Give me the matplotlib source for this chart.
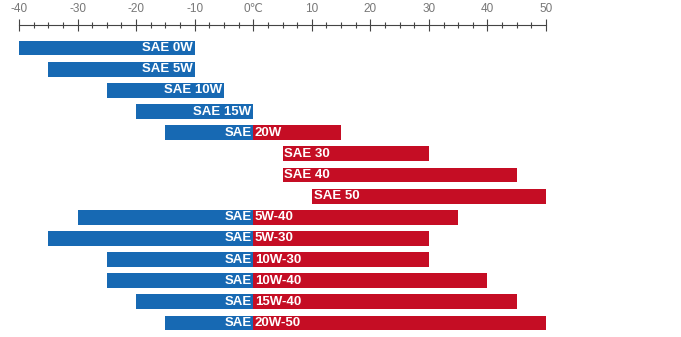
import matplotlib.pyplot as plt
from matplotlib.ticker import MultipleLocator

# temperature ranges per oil grade (deg C)
names = ['0W', '5W', '10W', '15W', '20W', '30', '40', '50',
         '5W-40', '5W-30', '10W-30', '10W-40', '15W-40', '20W-50']
low = [-40, -35, -25, -20, -15, 5, 5, 10, -30, -35, -25, -25, -20, -15]
high = [-10, -10, -5, 0, 15, 30, 45, 50, 35, 30, 30, 40, 45, 50]
ticks = [-40, -30, -20, -10, 0, 10, 20, 30, 40, 50]
tick_labels = ['-40', '-30', '-20', '-10', '0\u2103', '10', '20', '30', '40', '50']

blue = '#1769b3'
red = '#c50d24'

plt.rcParams['font.family'] = ['Liberation Sans', 'DejaVu Sans']

fig = plt.figure(figsize=(6.81, 3.37), dpi=100)
ax = fig.add_axes([19 / 681, 0, 527 / 681, 312 / 337])

for i, (n, lo, hi) in enumerate(zip(names, low, high)):
    b_end = min(hi, 0)
    if lo < 0:
        ax.barh(i, b_end - lo, left=lo, height=0.7, color=blue)
    if hi > 0:
        r_start = max(lo, 0)
        ax.barh(i, hi - r_start, left=r_start, height=0.7, color=red)
    txt = dict(color='white', fontweight='bold', fontsize=9.5, va='center')
    if hi <= 0:
        ax.text(hi - 0.3, i, 'SAE ' + n, ha='right', **txt)
    elif lo >= 0:
        ax.text(lo + 0.3, i, 'SAE ' + n, ha='left', **txt)
    else:
        ax.text(-0.3, i, 'SAE', ha='right', **txt)
        ax.text(0.3, i, n, ha='left', **txt)

ax.set_xlim(-40, 50)
ax.set_ylim(13.66, -1.09)
ax.set_xticks(ticks)
ax.set_xticklabels(tick_labels)
ax.xaxis.set_minor_locator(MultipleLocator(2.5))
ax.xaxis.tick_top()
ax.tick_params(axis='x', which='major', direction='inout', length=9,
               width=0.8, color='#444444', labelsize=8.5, labelcolor='#777777', pad=2.5)
ax.tick_params(axis='x', which='minor', direction='inout', length=4,
               width=0.8, color='#444444')
ax.set_yticks([])
for s in ['left', 'right', 'bottom']:
    ax.spines[s].set_visible(False)
ax.spines['top'].set_color('#444444')
ax.spines['top'].set_linewidth(0.8)

fig.savefig('out.png', dpi=100)
